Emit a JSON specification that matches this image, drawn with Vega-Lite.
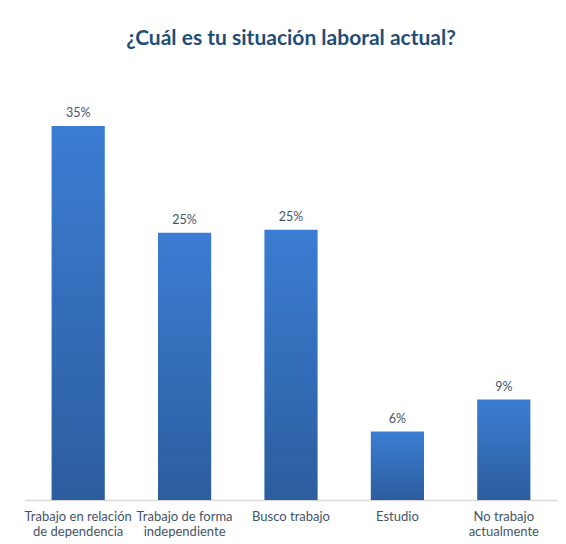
{
  "$schema": "https://vega.github.io/schema/vega-lite/v6.json",
  "autosize": "none",
  "width": 532,
  "height": 400,
  "padding": {"left": 25, "top": 100, "right": 9, "bottom": 44},
  "background": "white",
  "config": {"view": {"stroke": null}, "font": "Lato"},
  "title": {
    "text": "¿Cuál es tu situación laboral actual?",
    "font": "Lato",
    "fontSize": 21,
    "fontWeight": "bold",
    "color": "#1F4E79",
    "anchor": "middle",
    "offset": 51
  },
  "data": {
    "values": [
      {"cat": "Trabajo en relación|de dependencia", "value": 0.350},
      {"cat": "Trabajo de forma|independiente", "value": 0.250},
      {"cat": "Busco trabajo", "value": 0.253},
      {"cat": "Estudio", "value": 0.064},
      {"cat": "No trabajo|actualmente", "value": 0.094}
    ]
  },
  "encoding": {
    "x": {
      "field": "cat",
      "type": "nominal",
      "sort": null,
      "scale": {"paddingInner": 0.5, "paddingOuter": 0.25},
      "axis": {
        "title": null,
        "labelAngle": 0,
        "labelExpr": "split(datum.label, '|')",
        "labelFontSize": 13,
        "labelColor": "#44546A",
        "labelLineHeight": 15,
        "labelPadding": 10,
        "ticks": false,
        "domainColor": "#D9D9D9",
        "domainWidth": 1.5
      }
    },
    "y": {
      "field": "value",
      "type": "quantitative",
      "scale": {"domain": [0, 0.3743], "nice": false},
      "axis": null
    }
  },
  "layer": [
    {
      "mark": {
        "type": "bar",
        "color": {
          "gradient": "linear",
          "x1": 0, "y1": 0, "x2": 0, "y2": 1,
          "stops": [
            {"offset": 0, "color": "#3B7DD3"},
            {"offset": 1, "color": "#2C5D9E"}
          ]
        }
      }
    },
    {
      "mark": {"type": "text", "dy": -13, "fontSize": 12.5, "color": "#44546A"},
      "encoding": {
        "text": {"field": "value", "type": "quantitative", "format": ".0%"}
      }
    }
  ]
}
